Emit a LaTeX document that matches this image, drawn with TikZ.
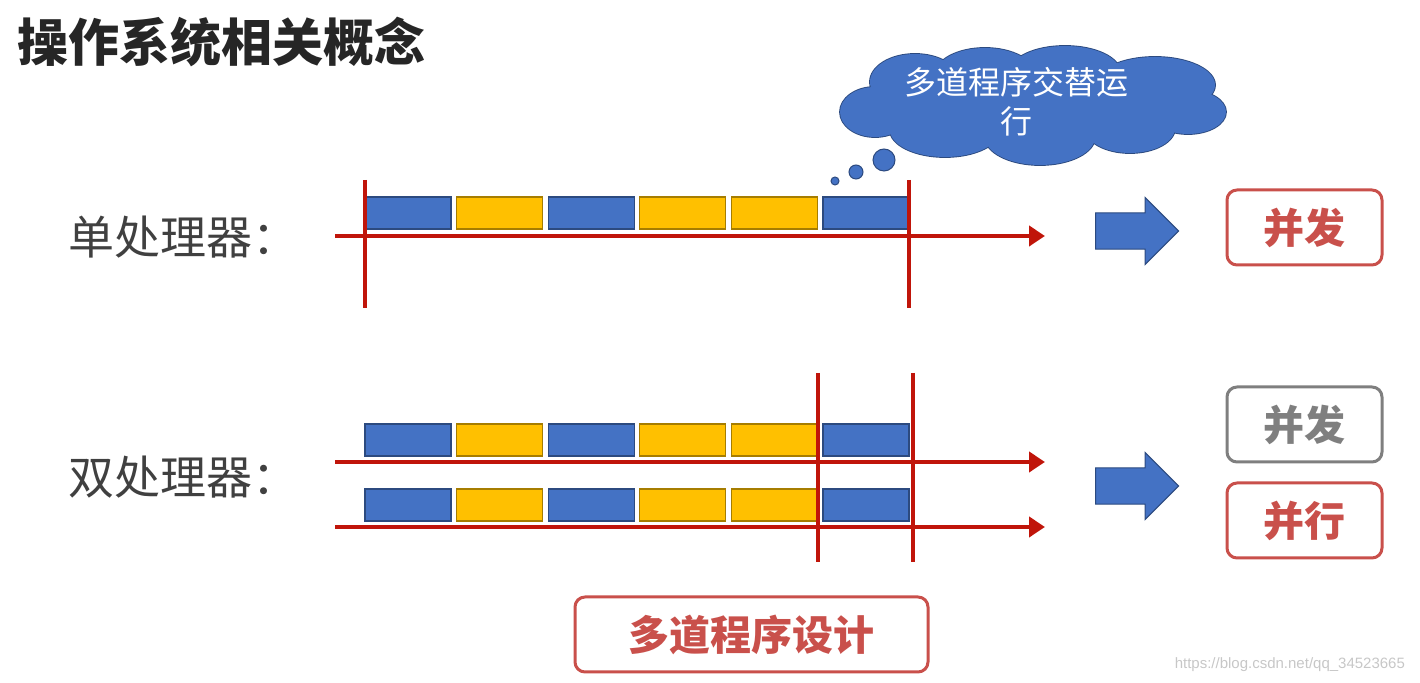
\documentclass[tikz,border=0pt]{standalone}
\usepackage{fontspec}
\newfontfamily\cjk{Noto Sans CJK SC}
\newfontfamily\urlfont{Liberation Sans}
\usetikzlibrary{shapes.arrows,arrows.meta}
\definecolor{blu}{HTML}{4472C4}
\definecolor{yel}{HTML}{FFC000}
\definecolor{axisred}{HTML}{C0150A}
\definecolor{tagred}{HTML}{C9504B}
\definecolor{taggray}{HTML}{7F7F7F}
\tikzset{task/.style={draw=#1!65!black, fill=#1, line width=0.6pt,
        minimum width=43pt, minimum height=16pt, inner sep=0pt},
    axis/.style={draw=axisred, line width=2pt, -{Triangle[length=8pt,width=10pt]}},
    tickline/.style={draw=axisred, line width=1.6pt},
    rowtext/.style={anchor=west, text=black!75, font=\cjk\fontsize{23}{27}\selectfont},
    result/.style={draw=tagred, line width=1.5pt, rounded corners=5pt,
        minimum width=77.5pt, minimum height=37.5pt, text=tagred,
        font=\cjk\bfseries\fontsize{20.5}{24}\selectfont},
    bigarrow/.style={single arrow, draw=blu!65!black, fill=blu, line width=0.5pt,
        minimum height=41.5pt, minimum width=33.5pt, inner sep=8.2pt},
    bubble/.style={circle, draw=blu!65!black, fill=blu, line width=0.5pt, inner sep=0pt},
    puff/.style={draw=blu!65!black, fill=blu, line width=0.9pt},
    }
\begin{document}
\begin{tikzpicture}[x=0.5pt,y=-0.5pt]
	\useasboundingbox (0,0) rectangle (1420,683);
	% title
	\node[anchor=west, text=black!85, font=\cjk\bfseries\fontsize{25.5}{30}\selectfont] (title) at (10,42) {操作系统相关概念};
	\node[rowtext] (single) at (61,237) {单处理器：};
	\node[rowtext] (dual) at (61,477) {双处理器：};
	% single processor
	\foreach \c [count=\i] in {blu,yel,blu,yel,yel,blu}
		\node[task=\c] (s\i) at ({408+(\i-1)*91.6},213) {};
	\coordinate (s0) at (335,236);
	\coordinate (s7) at (1045,236);
	\draw[axis] (s0) -- (s7);
	\coordinate (sat) at (365,180); \coordinate (sab) at (365,308);
	\coordinate (sbt) at (909,180); \coordinate (sbb) at (909,308);
	\draw[tickline] (sat) -- (sab);
	\draw[tickline] (sbt) -- (sbb);
	% dual processor
	\foreach \c [count=\i] in {blu,yel,blu,yel,yel,blu}{
		\node[task=\c] (da\i) at ({408+(\i-1)*91.6},440) {};
		\node[task=\c] (db\i) at ({408+(\i-1)*91.6},505) {};
	}
	\coordinate (da0) at (335,462); \coordinate (da7) at (1045,462);
	\coordinate (db0) at (335,527); \coordinate (db7) at (1045,527);
	\draw[axis] (da0) -- (da7);
	\draw[axis] (db0) -- (db7);
	\coordinate (dat) at (818,373); \coordinate (dab) at (818,562);
	\coordinate (dbt) at (913,373); \coordinate (dbb) at (913,562);
	\draw[tickline] (dat) -- (dab);
	\draw[tickline] (dbt) -- (dbb);
	% thought cloud: outlined puffs, then filled again to hide the inner edges
	\foreach \cx/\cy/\rx/\ry in {875/112/35/25, 915/82/45/28, 985/75/50/27, 1065/72/55/26,
		1155/85/60/28, 1188/112/38/22, 1130/128/45/25, 1040/137/55/28, 945/130/55/27}
		\draw[puff] (\cx,\cy) ellipse [x radius=\rx, y radius=\ry];
	\foreach \cx/\cy/\rx/\ry in {875/112/35/25, 915/82/45/28, 985/75/50/27, 1065/72/55/26,
		1155/85/60/28, 1188/112/38/22, 1130/128/45/25, 1040/137/55/28, 945/130/55/27, 1030/107/150/40}
		\fill[blu] (\cx,\cy) ellipse [x radius=\rx, y radius=\ry];
	\node[align=center, text=white, font=\cjk\fontsize{16}{19.5}\selectfont] (cloudtxt) at (1016,102) {多道程序交替运\\行};
	\node[bubble, minimum size=11pt] (bub1) at (884,160) {};
	\node[bubble, minimum size=7pt] (bub2) at (856,172) {};
	\node[bubble, minimum size=4pt] (bub3) at (835,181) {};
	% results
	\node[bigarrow] (arr1) at (1128,231) {};
	\node[bigarrow] (arr2) at (1128,486) {};
	\node[result] (conc) at (1304.5,227.5) {并发};
	\node[result, draw=taggray, text=taggray] (conc2) at (1304.5,424.5) {并发};
	\node[result] (para) at (1304.5,520.5) {并行};
	\node[result, minimum width=176.5pt] (multi) at (751.5,634.5) {多道程序设计};
	\node[anchor=east, text=black!22, font=\urlfont\fontsize{7.5}{9}\selectfont] (url) at (1412,665) {https://blog.csdn.net/qq\_34523665};
\end{tikzpicture}
\end{document}
